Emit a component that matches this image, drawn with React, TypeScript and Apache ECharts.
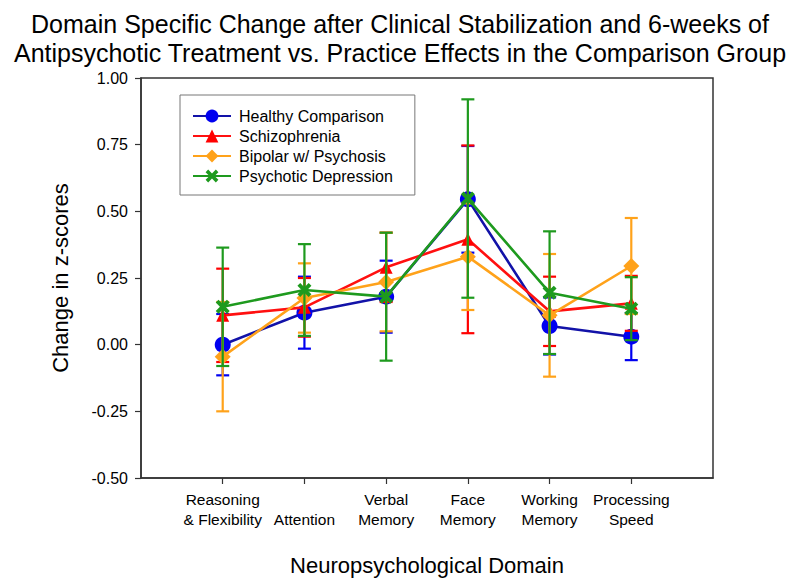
import React, { useEffect, useRef } from "react";
import * as echarts from "echarts";

const domains = [
  "Reasoning\n& Flexibility",
  "\nAttention",
  "Verbal\nMemory",
  "Face\nMemory",
  "Working\nMemory",
  "Processing\nSpeed",
];
const domainPositions = [1, 2, 3, 4, 5, 6];
const yTicks = [-0.5, -0.25, 0, 0.25, 0.5, 0.75, 1.0];

const groupNames = [
  "Healthy Comparison",
  "Schizophrenia",
  "Bipolar w/ Psychosis",
  "Psychotic Depression",
];

const healthyMean = [0.0, 0.12, 0.18, 0.545, 0.07, 0.03];
const healthyErr = [0.115, 0.135, 0.135, 0.2, 0.107, 0.088];
const schizoMean = [0.11, 0.14, 0.29, 0.395, 0.125, 0.155];
const schizoErr = [0.175, 0.11, 0.13, 0.352, 0.13, 0.103];
const bipolarMean = [-0.045, 0.175, 0.235, 0.33, 0.11, 0.295];
const bipolarErr = [0.205, 0.13, 0.185, 0.2, 0.23, 0.18];
const depressionMean = [0.142, 0.205, 0.18, 0.548, 0.195, 0.135];
const depressionErr = [0.222, 0.172, 0.24, 0.372, 0.23, 0.118];

const FONT = "'Liberation Sans', Arial, Helvetica, sans-serif";
const X_SYMBOL =
  "path://M2,0 L5,3 L8,0 L10,2 L7,5 L10,8 L8,10 L5,7 L2,10 L0,8 L3,5 L0,2 Z";

const groups = [
  { name: groupNames[0], mean: healthyMean, err: healthyErr, color: "#0000f0", line: "#1212a8", symbol: "circle", size: 16 },
  { name: groupNames[1], mean: schizoMean, err: schizoErr, color: "#ff0000", line: "#ff1010", symbol: "triangle", size: 13 },
  { name: groupNames[2], mean: bipolarMean, err: bipolarErr, color: "#ffa21a", line: "#ffa21a", symbol: "diamond", size: 16 },
  { name: groupNames[3], mean: depressionMean, err: depressionErr, color: "#1e9a1e", line: "#1e9a1e", symbol: X_SYMBOL, size: 14 },
];

export default function App() {
  const ref = useRef<HTMLDivElement>(null);

  useEffect(() => {
    if (!ref.current) return;
    const chart = echarts.init(ref.current, undefined, { renderer: "svg" });

    const series: any[] = [];
    groups.forEach((g, gi) => {
      const errData = g.mean.map((m, i) => [domainPositions[i], m - g.err[i], m + g.err[i]]);
      series.push({
        type: "custom",
        name: g.name + " SE",
        z: 2 + gi * 2,
        data: errData,
        encode: { x: 0, y: [1, 2] },
        renderItem: (params: any, api: any) => {
          const x = api.value(0);
          const pLo = api.coord([x, api.value(1)]);
          const pHi = api.coord([x, api.value(2)]);
          const w = 6.5;
          const style = { stroke: g.color, lineWidth: 2.2, fill: "none" };
          return {
            type: "group",
            children: [
              { type: "line", shape: { x1: pLo[0], y1: pLo[1], x2: pHi[0], y2: pHi[1] }, style },
              { type: "line", shape: { x1: pLo[0] - w, y1: pLo[1], x2: pLo[0] + w, y2: pLo[1] }, style },
              { type: "line", shape: { x1: pHi[0] - w, y1: pHi[1], x2: pHi[0] + w, y2: pHi[1] }, style },
            ],
          };
        },
      });
      series.push({
        type: "line",
        name: g.name,
        z: 3 + gi * 2,
        data: g.mean.map((m, i) => [domainPositions[i], m]),
        symbol: g.symbol,
        symbolSize: g.size,
        showAllSymbol: true,
        lineStyle: { color: g.line, width: 2.6 },
        itemStyle: { color: g.color },
      });
    });

    chart.setOption({
      animation: false,
      backgroundColor: "#ffffff",
      textStyle: { fontFamily: FONT },
      title: {
        text: "Domain Specific Change after Clinical Stabilization and 6-weeks of\nAntipsychotic Treatment vs. Practice Effects in the Comparison Group",
        left: "center",
        top: 4,
        textStyle: { fontFamily: FONT, fontSize: 25, fontWeight: "normal", color: "#000", lineHeight: 29 },
      },
      legend: {
        data: groupNames,
        orient: "vertical",
        left: 180,
        top: 95,
        padding: [13, 22, 11, 12],
        itemGap: 4,
        itemWidth: 38,
        itemHeight: 16,
        backgroundColor: "#fff",
        borderColor: "#777",
        borderWidth: 1,
        textStyle: { fontFamily: FONT, fontSize: 16, color: "#000", lineHeight: 16, padding: [0, 0, 0, 3] },
      },
      grid: {
        left: 141,
        right: 87,
        top: 78,
        bottom: 105,
        show: true,
        borderColor: "#333",
        borderWidth: 1.5,
        containLabel: false,
      },
      xAxis: {
        type: "value",
        min: 0,
        max: 7,
        interval: 1,
        splitLine: { show: false },
        axisLine: { show: true, onZero: false, lineStyle: { color: "#333", width: 1.5 } },
        axisTick: { show: true, length: 6, customValues: domainPositions, lineStyle: { color: "#333", width: 1.2 } },
        axisLabel: {
          customValues: domainPositions,
          formatter: (v: number) => domains[Math.round(v) - 1] ?? "",
          margin: 11,
          fontFamily: FONT,
          fontSize: 15.5,
          lineHeight: 20,
          color: "#000",
        },
        name: "Neuropsychological Domain",
        nameLocation: "middle",
        nameGap: 76,
        nameTextStyle: { fontFamily: FONT, fontSize: 22, color: "#000" },
      },
      yAxis: {
        type: "value",
        min: -0.5,
        max: 1.0,
        interval: 0.25,
        splitLine: { show: false },
        axisLine: { show: true, onZero: false, lineStyle: { color: "#333", width: 1.5 } },
        axisTick: { show: true, length: 6, lineStyle: { color: "#333", width: 1.2 } },
        axisLabel: {
          formatter: (v: number) => (yTicks.includes(v) ? v.toFixed(2) : ""),
          margin: 13,
          fontFamily: FONT,
          fontSize: 16,
          color: "#000",
        },
        name: "Change in z-scores",
        nameLocation: "middle",
        nameGap: 70,
        nameTextStyle: { fontFamily: FONT, fontSize: 22, color: "#000" },
      },
      series,
    });

    return () => chart.dispose();
  }, []);

  return (
    <div
      ref={ref}
      style={{ position: "fixed", left: 0, top: 0, width: 800, height: 583, background: "#fff" }}
    />
  );
}
